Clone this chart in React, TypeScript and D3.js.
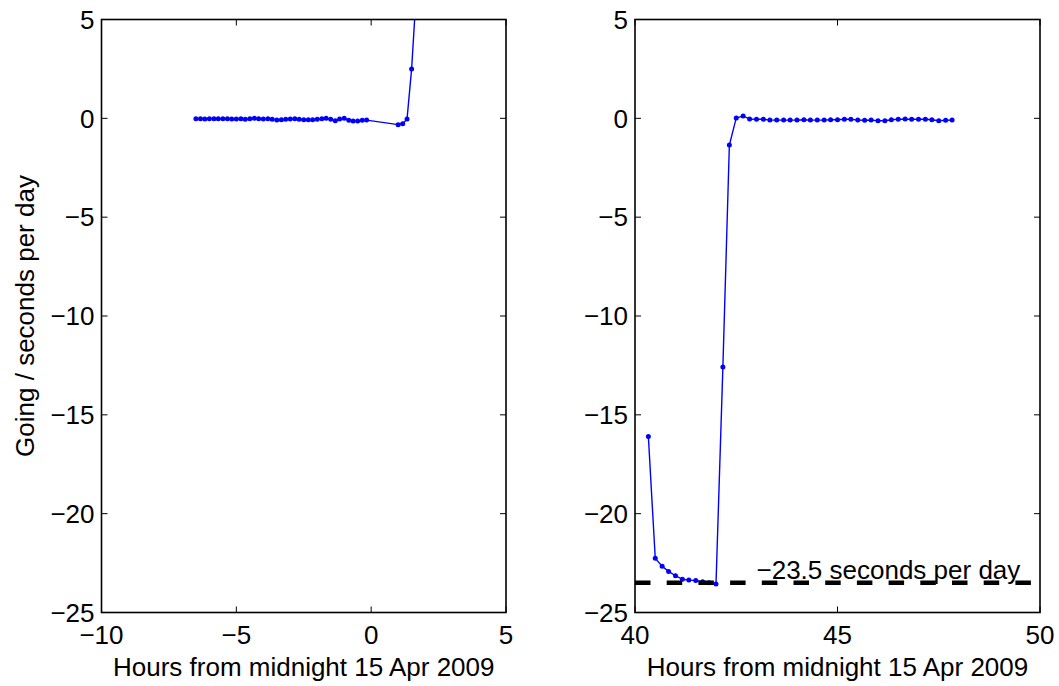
import React from 'react';
import * as d3 from 'd3';

// ---- data ----
const leftHours = [
  -6.5, -6.33, -6.17, -6.0, -5.83, -5.67, -5.5, -5.33, -5.17, -5.0,
  -4.83, -4.67, -4.5, -4.33, -4.17, -4.0, -3.83, -3.67, -3.5, -3.33,
  -3.17, -3.0, -2.83, -2.67, -2.5, -2.33, -2.17, -2.0, -1.83, -1.67,
  -1.5, -1.33, -1.17, -1.0, -0.83, -0.67, -0.5, -0.33, -0.17,
  1.0, 1.17, 1.33, 1.5, 1.67,
];
const leftGoing = [
  -0.02, -0.02, -0.04, -0.02, -0.02, -0.02, -0.02, -0.02, -0.04, -0.04,
  -0.02, -0.05, -0.02, 0.0, -0.02, -0.04, -0.02, -0.05, -0.09, -0.07,
  -0.05, -0.04, -0.02, -0.05, -0.07, -0.07, -0.07, -0.05, -0.02, 0.0,
  -0.05, -0.12, -0.04, 0.0, -0.1, -0.14, -0.14, -0.1, -0.09,
  -0.32, -0.27, -0.04, 2.5, 6.3,
];
const rightHours = [
  40.33, 40.5, 40.67, 40.83, 41.0, 41.17, 41.33, 41.5, 41.67, 41.83,
  42.0, 42.17, 42.33, 42.5, 42.67, 42.83, 43.0, 43.17, 43.33, 43.5,
  43.67, 43.83, 44.0, 44.17, 44.33, 44.5, 44.67, 44.83, 45.0, 45.17,
  45.33, 45.5, 45.67, 45.83, 46.0, 46.17, 46.33, 46.5, 46.67, 46.83,
  47.0, 47.17, 47.33, 47.5, 47.67, 47.83,
];
const rightGoing = [
  -16.1, -22.26, -22.66, -22.92, -23.14, -23.32, -23.36, -23.38, -23.45, -23.5,
  -23.56, -12.58, -1.35, 0.02, 0.12, -0.04, -0.05, -0.05, -0.09, -0.09,
  -0.09, -0.09, -0.09, -0.07, -0.09, -0.09, -0.09, -0.07, -0.07, -0.05,
  -0.05, -0.09, -0.1, -0.09, -0.12, -0.12, -0.07, -0.05, -0.04, -0.05,
  -0.05, -0.05, -0.07, -0.12, -0.1, -0.09,
];
const yTicks = [5, 0, -5, -10, -15, -20, -25];
const yDomain = [-25, 5];
const leftXDomain = [-10, 5];
const leftXTicks = [-10, -5, 0, 5];
const rightXDomain = [40, 50];
const rightXTicks = [40, 45, 50];
const referenceRate = -23.5;
const referenceLabel = '\u221223.5 seconds per day';
const referenceLabelPos = [43.0, -23.3];
const xLabel = 'Hours from midnight 15 Apr 2009';
const yLabel = 'Going / seconds per day';

// ---- layout ----
const W = 1059;
const H = 686;
const TOP = 19.5;
const BOTTOM = 612.5;
const FONT = '"Liberation Sans", Arial, Helvetica, sans-serif';
const FS = 26;
const TICK = 6;
const BLUE = '#0000ff';

const fmt = d3.format('d');

function Panel(props: {
  id: string;
  x0: number;
  x1: number;
  xDomain: number[];
  xTicks: number[];
  hours: number[];
  going: number[];
  yLab?: boolean;
  ref?: boolean;
}) {
  const { id, x0, x1, xDomain, xTicks, hours, going, yLab, ref } = props;
  const x = d3.scaleLinear().domain(xDomain).range([x0, x1]);
  const y = d3.scaleLinear().domain(yDomain).range([BOTTOM, TOP]);
  const pts = hours.map((h, i) => [h, going[i]] as [number, number]);
  const line = d3
    .line<[number, number]>()
    .x((d) => x(d[0]))
    .y((d) => y(d[1]));
  const txt = { fontFamily: FONT, fontSize: FS, fill: '#000' };
  return (
    <g>
      <defs>
        <clipPath id={id}>
          <rect x={x0} y={TOP} width={x1 - x0} height={BOTTOM - TOP} />
        </clipPath>
      </defs>
      <g clipPath={`url(#${id})`}>
        <path d={line(pts) || ''} fill="none" stroke={BLUE} strokeWidth={1.4} />
        {pts.map((d, i) => (
          <circle key={i} cx={x(d[0])} cy={y(d[1])} r={2.5} fill={BLUE} />
        ))}
        {ref && (
          <line
            x1={x0}
            x2={x1}
            y1={y(referenceRate)}
            y2={y(referenceRate)}
            stroke="#000"
            strokeWidth={4.5}
            strokeDasharray="15.5 16.2"
          />
        )}
      </g>
      {ref && (
        <text x={x(referenceLabelPos[0])} y={y(referenceLabelPos[1])} {...txt}>
          {referenceLabel}
        </text>
      )}
      {yTicks.map((t) => (
        <g key={'y' + t}>
          <line x1={x0} x2={x0 + TICK} y1={y(t)} y2={y(t)} stroke="#000" strokeWidth={1} />
          <line x1={x1} x2={x1 - TICK} y1={y(t)} y2={y(t)} stroke="#000" strokeWidth={1} />
          <text x={x0 - 7} y={y(t) + 9.3} textAnchor="end" {...txt}>
            {fmt(t)}
          </text>
        </g>
      ))}
      {xTicks.map((t) => (
        <g key={'x' + t}>
          <line x1={x(t)} x2={x(t)} y1={BOTTOM} y2={BOTTOM - TICK} stroke="#000" strokeWidth={1} />
          <line x1={x(t)} x2={x(t)} y1={TOP} y2={TOP + TICK} stroke="#000" strokeWidth={1} />
          <text x={x(t)} y={643.5} textAnchor="middle" {...txt}>
            {fmt(t)}
          </text>
        </g>
      ))}
      <rect x={x0} y={TOP} width={x1 - x0} height={BOTTOM - TOP} fill="none" stroke="#000" strokeWidth={1.6} />
      <text x={(x0 + x1) / 2} y={675.5} textAnchor="middle" {...txt}>
        {xLabel}
      </text>
      {yLab && (
        <text
          transform={`translate(${34},${(TOP + BOTTOM) / 2}) rotate(-90)`}
          textAnchor="middle"
          {...txt}
        >
          {yLabel}
        </text>
      )}
    </g>
  );
}

export default function App() {
  return (
    <svg
      width={W}
      height={H}
      style={{ position: 'absolute', left: 0, top: 0, background: '#fff' }}
    >
      <rect x={0} y={0} width={W} height={H} fill="#fff" />
      <Panel
        id="clipL"
        x0={101.5}
        x1={506}
        xDomain={leftXDomain}
        xTicks={leftXTicks}
        hours={leftHours}
        going={leftGoing}
        yLab
      />
      <Panel
        id="clipR"
        x0={635}
        x1={1040}
        xDomain={rightXDomain}
        xTicks={rightXTicks}
        hours={rightHours}
        going={rightGoing}
        ref
      />
    </svg>
  );
}
